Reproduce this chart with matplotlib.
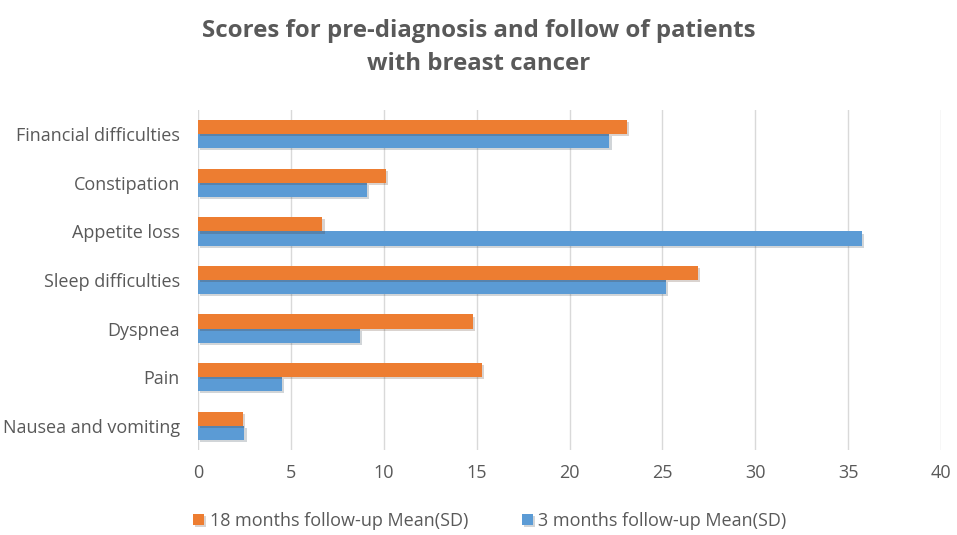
import matplotlib.pyplot as plt
import numpy as np
import matplotlib.patheffects as pe

# data
categories = ['Nausea and vomiting', 'Pain', 'Dyspnea', 'Sleep difficulties',
              'Appetite loss', 'Constipation', 'Financial difficulties']
months3 = [2.5, 4.5, 8.7, 25.2, 35.75, 9.1, 22.15]
months18 = [2.4, 15.3, 14.8, 26.9, 6.7, 10.1, 23.1]
xticks = [0, 5, 10, 15, 20, 25, 30, 35, 40]

grey = '#595959'
plt.rcParams['font.family'] = ['Open Sans', 'DejaVu Sans']

fig = plt.figure(figsize=(9.57, 5.35), dpi=100)
ax = fig.add_axes([198/957, 1-450/535, (941-198)/957, 340/535])

y = np.arange(len(categories))
h = 0.29
shadow = [pe.SimplePatchShadow(offset=(1.5, -1.5), alpha=0.2), pe.Normal()]
ax.barh(y - h/2, months3, height=h, color='#5B9BD5', label='3 months follow-up Mean(SD)',
        path_effects=shadow, zorder=3)
ax.barh(y + h/2, months18, height=h, color='#ED7D31', label='18 months follow-up Mean(SD)',
        path_effects=shadow, zorder=3)

ax.set_xlim(0, 40)
ax.set_ylim(-0.5, len(categories) - 0.5)
ax.set_xticks(xticks)
ax.set_yticks(y)
ax.set_yticklabels(categories)
ax.tick_params(axis='both', length=0, labelsize=13, labelcolor=grey)
ax.tick_params(axis='x', pad=10)
ax.tick_params(axis='y', pad=13)
ax.grid(axis='x', color='#d9d9d9', linewidth=1, zorder=0)
for s in ax.spines.values():
    s.set_visible(False)

fig.suptitle('Scores for pre-diagnosis and follow of patients\nwith breast cancer',
             y=0.965, fontsize=17.3, fontweight='bold', color=grey, linespacing=1.5)

handles, labels = ax.get_legend_handles_labels()
fig.legend(handles[::-1], labels[::-1], loc='center', bbox_to_anchor=(490/957, 1-521/535),
           ncol=2, frameon=False, fontsize=13, labelcolor=grey, handlelength=0.6,
           handleheight=0.6, handletextpad=0.3, columnspacing=3)

fig.savefig('out.png', dpi=100)
